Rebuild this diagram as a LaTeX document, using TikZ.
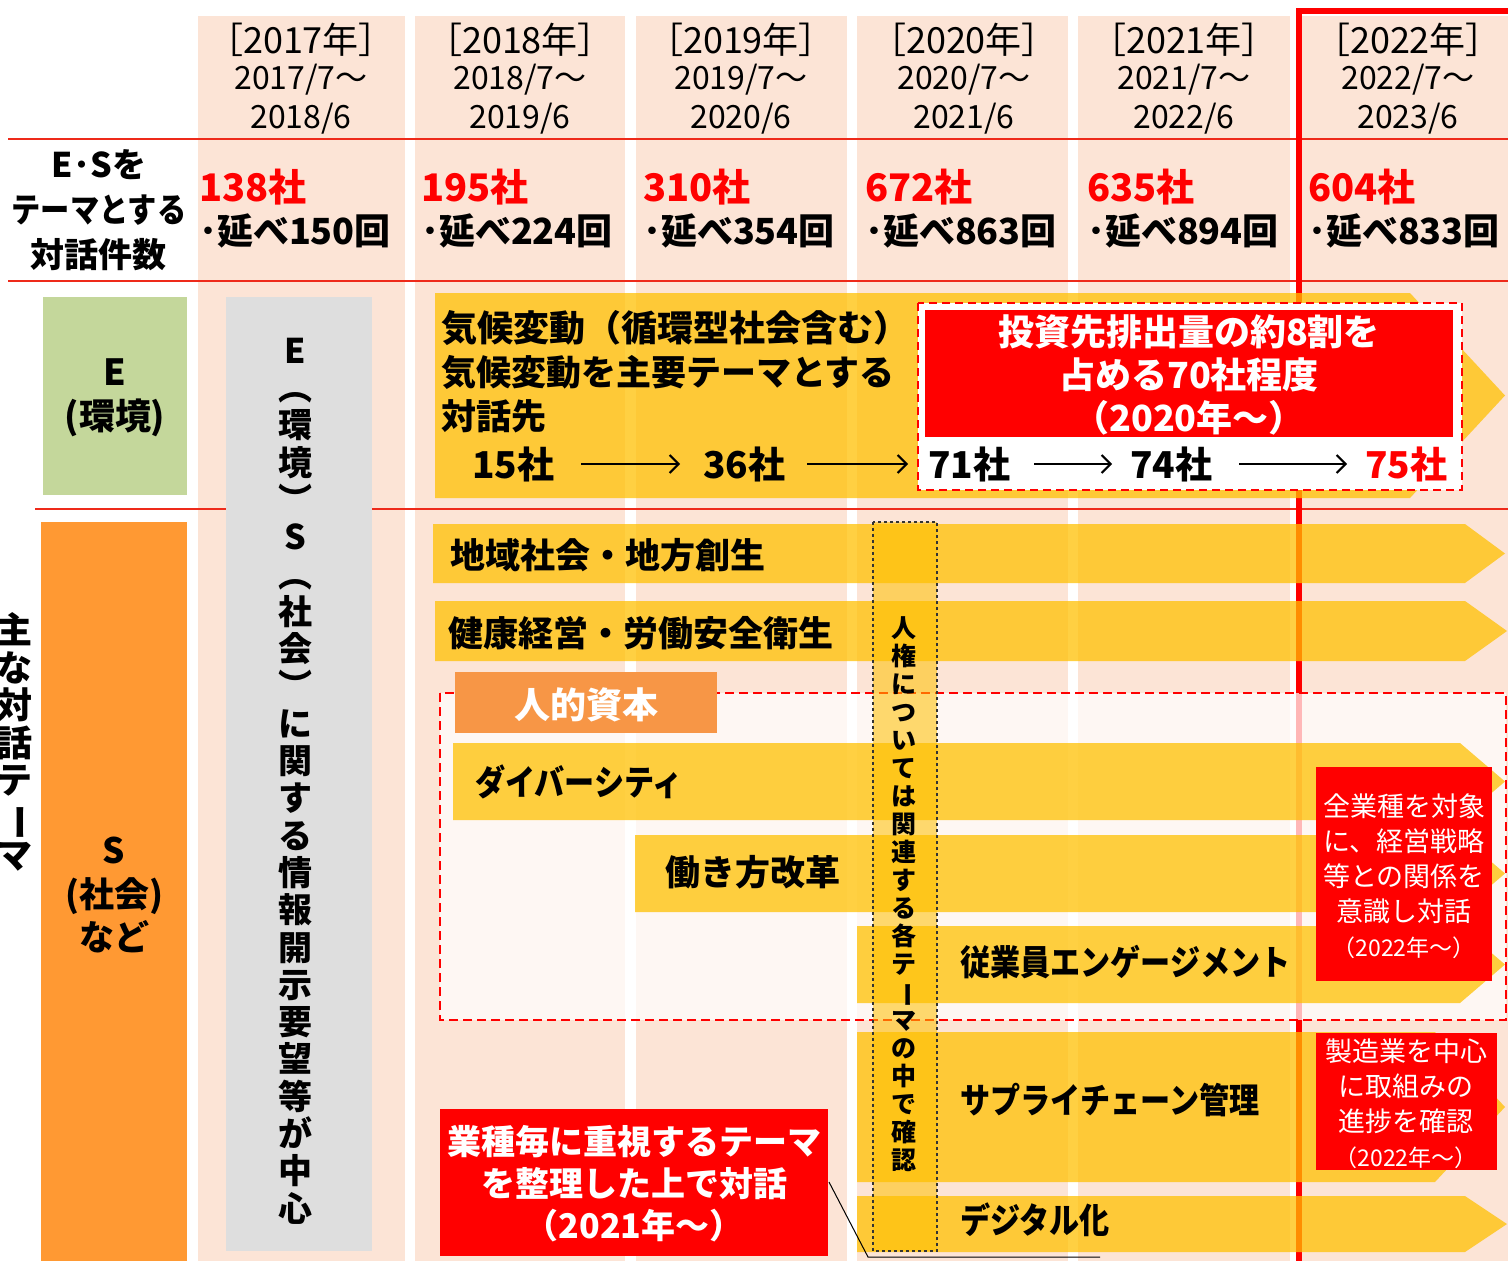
\documentclass[tikz,border=0pt]{standalone}
\usepackage{fontspec}
\setmainfont{Noto Sans CJK JP}
\usetikzlibrary{arrows.meta}
\definecolor{peach}{HTML}{FCE4D6}
\definecolor{ylw}{HTML}{FFC000}
\definecolor{grn}{HTML}{C4D79B}
\definecolor{org}{HTML}{FF9933}
\definecolor{hcorg}{HTML}{F79646}
\definecolor{gry}{HTML}{DEDEDE}
\definecolor{rd}{HTML}{FF0000}
\definecolor{lnred}{HTML}{EE2A1A}
\newcommand\nar[1]{\scalebox{0.86}[1]{#1}}
\newcommand\vbar{\rotatebox[origin=c]{-90}{ー}}
\newcommand\yarr[5]{\fill[ylw, fill opacity=0.74] (#1,#2) -- (#4,#2) -- (#5,{(#2+#3)/2}) -- (#4,#3) -- (#1,#3) -- cycle;}
\tikzset{
  hd/.style={font=\fontsize{36}{40}\selectfont},
  per/.style={font=\fontsize{32}{36}\selectfont},
  cnt/.style={font=\fontsize{38}{40}\selectfont\bfseries, text=rd, anchor=west},
  tim/.style={font=\fontsize{36}{40}\selectfont\bfseries, anchor=west},
  lbl/.style={font=\fontsize{34}{45}\selectfont\bfseries, align=center},
  big/.style={font=\fontsize{35}{40}\selectfont\bfseries, anchor=west},
  num/.style={font=\fontsize{37}{40}\selectfont\bfseries, anchor=west},
  wbig/.style={font=\fontsize{36}{43}\selectfont\bfseries, text=white, align=center},
  note/.style={font=\fontsize{27}{35}\selectfont, text=white, align=center},
  flow/.style={-{Straight Barb[length=9pt,width=18pt,line width=2pt]}, line width=1.8pt},
}
\begin{document}
\begin{tikzpicture}[x=1pt,y=-1pt, every node/.style={inner sep=0pt, outer sep=0pt}]
\fill[white] (0,0) rectangle (1508,1261);
\useasboundingbox (0,0) rectangle (1508,1261);
% columns
\foreach \a/\b in {198/405, 415/625, 636/847, 857/1068, 1078/1290, 1300/1508}
  \fill[peach] (\a,16) rectangle (\b,1261);
% row lines
\draw[lnred, line width=2pt] (8,139) -- (1508,139);
\draw[lnred, line width=2pt] (8,281) -- (1508,281);
\draw[lnred, line width=1.6pt] (35,509) -- (1508,509);
% 2022 frame
\draw[rd, line width=6pt] (1299,1265) -- (1299,11) -- (1512,11);
% side boxes
\fill[grn] (43,297) rectangle (187,495);
\fill[org] (41,522) rectangle (187,1265);
\fill[gry] (226,297) rectangle (372,1251);
% human capital overlay
\fill[white, fill opacity=0.72] (440,693) rectangle (1506,1020);
% arrows
\yarr{435}{293}{498}{1410}{1505}
\yarr{433}{524}{583}{1465}{1505}
\yarr{435}{601}{661}{1465}{1507}
\yarr{453}{743}{820}{1460}{1505}
\yarr{635}{835}{912}{1460}{1505}
\yarr{857}{926}{1003}{1460}{1505}
\yarr{857}{1032}{1182}{1435}{1505}
\yarr{857}{1196}{1252}{1465}{1507}
\draw[rd, line width=2pt, dash pattern=on 9pt off 5pt] (440,693) rectangle (1506,1020);
% human rights box
\filldraw[fill=ylw, fill opacity=0.55, draw=black!80, dashed, line width=1.3pt] (873,522) rectangle (937,1251);
% human capital label
\fill[hcorg] (455,672) rectangle (717,733);
% E dashed box
\filldraw[fill=white, draw=rd, line width=2pt, dash pattern=on 8pt off 5pt] (918,303) rectangle (1462,490);
\fill[rd] (925,310) rectangle (1453,437);
% right red notes
\fill[rd] (1316,767) rectangle (1492,981);
\fill[rd] (1316,1033) rectangle (1497,1170);
% bottom red note
\fill[rd] (440,1109) rectangle (828,1256);

% header
\foreach \cx/\lx/\yy/\zz/\cc/\kk in {301/199/2017/2018/138/150, 520/421/2018/2019/195/224, 741/643/2019/2020/310/354, 964/865/2020/2021/672/863, 1184/1087/2021/2022/635/894, 1408/1308/2022/2023/604/833}{
  \node[hd] (yr\yy) at (\cx,40) {［\yy 年］};
  \node[per] (pa\yy) at (\cx,80) {\yy/7～};
  \node[per] (pb\yy) at (\cx,119) {\zz/6};
  \node[cnt] (c\yy) at (\lx,187) {\cc 社};
  \node[tim] (t\yy) at (\lx,231) {･延べ\kk 回};
}
\node[lbl] (rowlbl) at (99,210) {E･Sを\\\nar{テーマとする}\\対話件数};
\node[font=\fontsize{36}{37.5}\selectfont\bfseries, align=center] (main) at (15,742) {主\\な\\対\\話\\テ\\\vbar\\マ};
\node[font=\fontsize{36}{44}\selectfont\bfseries, align=center] (elbl) at (115,398) {E\\(環境)};
\node[font=\fontsize{35}{43.5}\selectfont\bfseries, align=center] (slbl) at (114,895) {S\\(社会)\\など};
\node[font=\fontsize{34}{37.3}\selectfont\bfseries, align=center] (disc) at (295,781)
  {E\\︵\\環\\境\\︶\\S\\︵\\社\\会\\︶\\に\\関\\す\\る\\情\\報\\開\\示\\要\\望\\等\\が\\中\\心};
\node[font=\fontsize{25}{28}\selectfont\bfseries, align=center] (hr) at (904,894)
  {人\\権\\に\\つ\\い\\て\\は\\関\\連\\す\\る\\各\\テ\\\vbar\\マ\\の\\中\\で\\確\\認};

% E row
\node[big, font=\fontsize{36}{40}\selectfont\bfseries] (e1) at (441,328) {気候変動（循環型社会含む）};
\node[big] (e2) at (441,372) {気候変動を主要テーマとする};
\node[big] (e3) at (441,416) {対話先};
\node[num] (n15) at (472,464) {15社};
\node[num] (n36) at (703,464) {36社};
\node[num] (n71) at (928,464) {71社};
\node[num] (n74) at (1130,464) {74社};
\node[num, text=rd] (n75) at (1365,464) {75社};
\draw[flow, shorten <=27pt, shorten >=23pt] (n15.east) -- (n36.west);
\draw[flow, shorten <=22pt, shorten >=20pt] (n36.east) -- (n71.west);
\draw[flow, shorten <=24pt, shorten >=18pt] (n71.east) -- (n74.west);
\draw[flow, shorten <=27pt, shorten >=18pt] (n74.east) -- (n75.west);
\node[wbig] (ered) at (1189,375) {投資先排出量の約8割を\\占める70社程度\\（2020年～）};

% S rows
\node[big] (s1) at (450,555) {地域社会・地方創生};
\node[big] (s2) at (448,633) {健康経営・労働安全衛生};
\node[font=\fontsize{36}{40}\selectfont\bfseries, text=white] (hc) at (586,705) {人的資本};
\node[big] (s3) at (475,782) {\nar{ダイバーシティ}};
\node[big] (s4) at (665,872) {働き方改革};
\node[big] (s5) at (960,962) {\nar{従業員エンゲージメント}};
\node[big] (s6) at (960,1100) {\nar{サプライチェーン管理}};
\node[big] (s7) at (960,1220) {\nar{デジタル化}};

\node[note] (nt1) at (1404,876) {全業種を対象\\に、経営戦略\\等との関係を\\意識し対話\\{\fontsize{23}{30}\selectfont （2022年～）}};
\node[note] (nt2) at (1406,1104) {製造業を中心\\に取組みの\\進捗を確認\\{\fontsize{23}{30}\selectfont （2022年～）}};
\node[wbig, font=\fontsize{34}{42}\selectfont\bfseries] (nt3) at (634,1184) {業種毎に重視するテーマ\\を整理した上で対話\\（2021年～）};
\coordinate (cl1) at (829,1182);
\coordinate (cl2) at (868,1257);
\coordinate (cl3) at (1100,1257);
\draw[black, line width=1pt] (cl1) -- (cl2) -- (cl3);
\end{tikzpicture}
\end{document}
